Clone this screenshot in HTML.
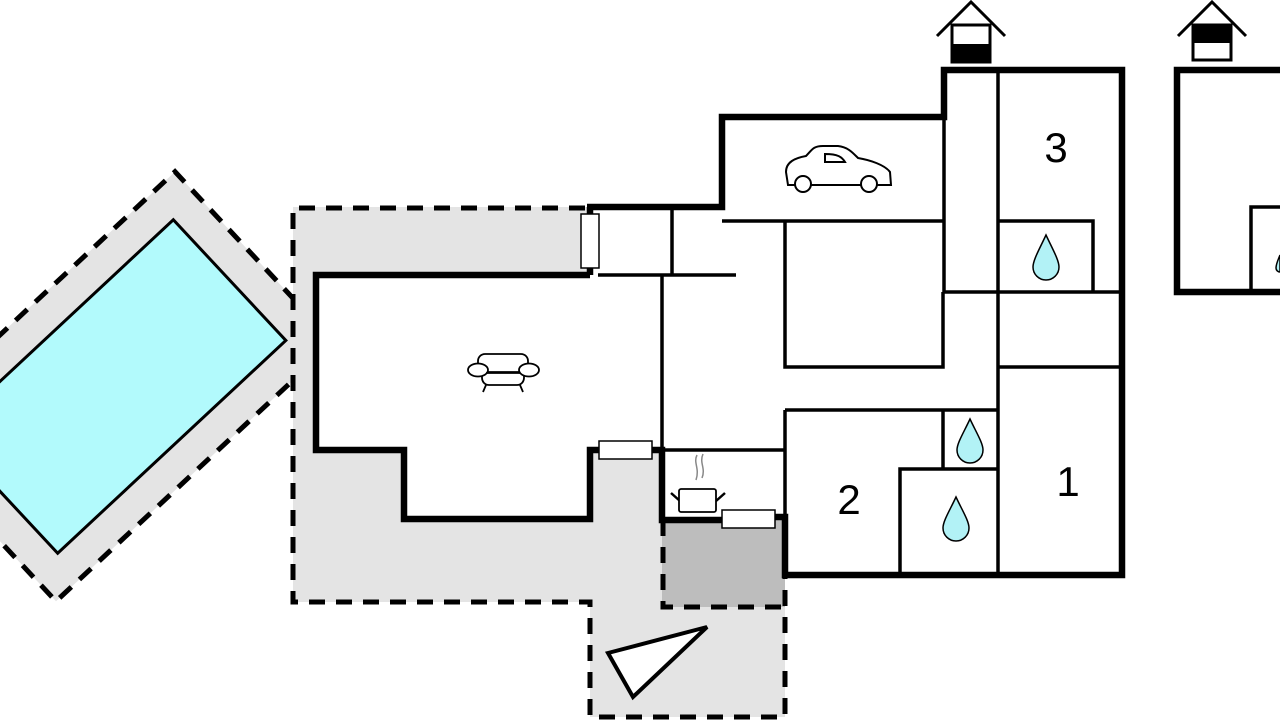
<!DOCTYPE html>
<html><head><meta charset="utf-8"><style>html,body{margin:0;padding:0;background:#fff;}svg{display:block}</style></head><body>
<svg width="1280" height="720" viewBox="0 0 1280 720" xmlns="http://www.w3.org/2000/svg">
<defs><clipPath id="cp"><rect x="-50" y="0" width="343" height="720"/></clipPath></defs>
<!-- pool -->
<g clip-path="url(#cp)">
<g transform="translate(115.5,386.5) rotate(-43)">
<rect x="-190" y="-116.5" width="380" height="233" fill="#e4e4e4" stroke="#000" stroke-width="5" stroke-dasharray="16,11"/>
<rect x="-156" y="-82.5" width="312" height="165" fill="#b2fafc" stroke="#000" stroke-width="3"/>
</g>
</g>
<!-- patio -->
<path d="M293,207 H588 V275 H316 V450 H404 V519 H590 V450 H662 V520 V607 H785 V717 H590 V602 H293 Z" fill="#e4e4e4"/>
<rect x="662" y="520" width="123" height="87" fill="#bdbdbd"/>
<g fill="none" stroke="#000" stroke-width="5" stroke-dasharray="16,11">
<path d="M585,208 H293 V602 H590 V717 H785 V520"/>
<path d="M663,520 V607 H785"/>
</g>
<!-- thin walls -->
<g fill="none" stroke="#000" stroke-width="3.5">
<path d="M722,221 H944"/>
<path d="M944,117 V292 H1120"/>
<path d="M998,70 V575"/>
<path d="M998,221 H1093 V292"/>
<path d="M785,221 V367 H943 V292"/>
<path d="M998,367 H1120"/>
<path d="M785,410 H998"/>
<path d="M943,410 V468"/>
<path d="M900,575 V469 H998"/>
<path d="M785,410 V575"/>
<path d="M672,207 V275"/>
<path d="M598,275 H736"/>
<path d="M662,275 V450"/>
<path d="M662,450 H785"/>
<path d="M1251,292 V207 H1280"/>
</g>
<!-- thick walls -->
<g fill="none" stroke="#000" stroke-width="6.5" stroke-linejoin="miter">
<path d="M590,275 H316 V450 H404 V519 H590 V450 H600"/>
<path d="M652,450 H662 V520 H722"/>
<path d="M775,517 H785 V575 H1122 V70 H944 V117 H722 V207 H587"/>
<path d="M590,207 V275"/>
<path d="M1280,70 H1177 V292 H1280"/>
</g>
<!-- windows -->
<g fill="#fff" stroke="#000" stroke-width="1.5">
<rect x="581" y="214" width="18" height="54"/>
<rect x="599" y="441" width="53" height="18"/>
<rect x="722" y="510" width="53" height="18"/>
</g>
<!-- chimneys -->
<g stroke="#000" stroke-width="3" fill="none">
<path d="M937,36 L971,2 L1005,36"/>
<path d="M1178,36 L1212,2 L1246,36"/>
</g>
<rect x="952" y="25" width="38" height="37" fill="#fff" stroke="#000" stroke-width="3"/>
<rect x="952" y="44" width="38" height="18" fill="#000"/>
<rect x="1193" y="25" width="38" height="35" fill="#fff" stroke="#000" stroke-width="3"/>
<rect x="1193" y="25" width="38" height="18" fill="#000"/>
<!-- drops -->
<g fill="#b2f2f6" stroke="#000" stroke-width="1.5">
<path d="M1046,235 C1040,248 1033,260 1033,267 A13,13 0 0 0 1059,267 C1059,260 1052,248 1046,235 Z"/>
<path d="M970,419 C964,432 957,443 957,450 A13,13 0 0 0 983,450 C983,443 976,432 970,419 Z"/>
<path d="M956,497 C950,510 943,521 943,528 A13,13 0 0 0 969,528 C969,521 962,510 956,497 Z"/>
<path d="M1280,255 C1278,260 1276,264 1276,268 A4,4 0 0 0 1280,272 Z"/>
</g>
<!-- numbers -->
<g font-family="Liberation Sans, sans-serif" font-size="42" fill="#000" text-anchor="middle">
<text x="1056" y="162">3</text>
<text x="849" y="514">2</text>
<text x="1068" y="496">1</text>
</g>
<!-- car -->
<g fill="#fff" stroke="#000" stroke-width="2">
<path d="M788,185 L786,172 C786,162 795,158 806,156 C812,150 813,146 823,146 L838,146 C848,147 853,153 858,158 C870,160 885,165 890,172 L891,185 Z"/>
<path d="M825,154 L825,162 L845,162 C842,157 838,154 825,154 Z"/>
<circle cx="803" cy="184" r="8"/>
<circle cx="869" cy="184" r="8"/>
</g>
<!-- sofa -->
<g fill="#fff" stroke="#000" stroke-width="1.8">
<path d="M486,385 L483,392 M520,385 L523,392"/>
<rect x="482" y="367" width="42" height="18" rx="7"/>
<rect x="478" y="354" width="50" height="18" rx="7"/>
<ellipse cx="478" cy="370" rx="10" ry="6.5"/>
<ellipse cx="529" cy="370" rx="10" ry="6.5"/>
<path d="M486,373 H520"/>
</g>
<!-- pot -->
<g fill="none" stroke="#000" stroke-width="2.5">
<path d="M671,493 L680,501 M716,501 L725,493"/>
</g>
<rect x="679" y="489" width="37" height="23" rx="2" fill="#fff" stroke="#000" stroke-width="1.8"/>
<path d="M697,455 C693,463 700,468 696,480 M703,454 C699,463 706,468 702,478" fill="none" stroke="#888" stroke-width="1.5"/>
<!-- triangle -->
<polygon points="608,653 707,627 633,697" fill="#fff" stroke="#000" stroke-width="4" stroke-linejoin="miter"/>
</svg>
</body></html>
